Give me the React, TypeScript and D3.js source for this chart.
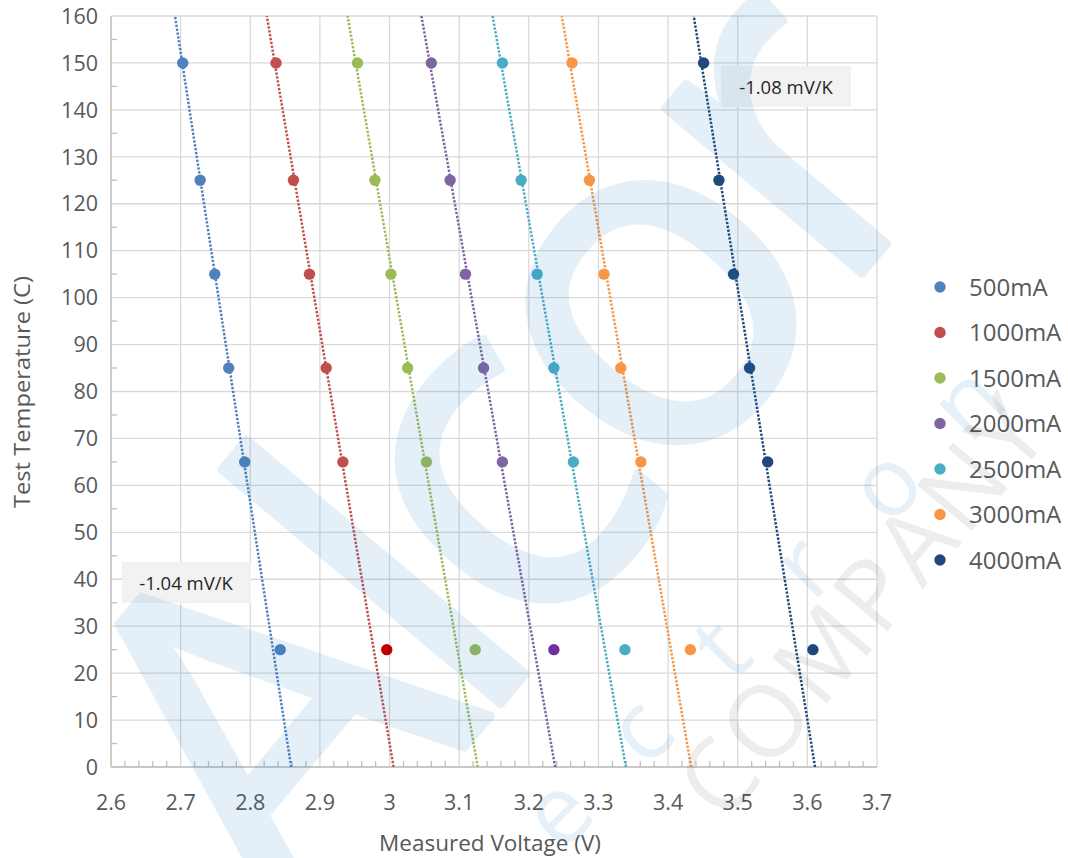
import React from 'react';
import * as d3 from 'd3';

// ---------- data ----------
const seriesNames = ['500mA', '1000mA', '1500mA', '2000mA', '2500mA', '3000mA', '4000mA'];
const hotTemps = [150, 125, 105, 85, 65];
const v500 = [2.703, 2.728, 2.749, 2.769, 2.792];
const v1000 = [2.837, 2.862, 2.885, 2.909, 2.933];
const v1500 = [2.954, 2.979, 3.002, 3.026, 3.053];
const v2000 = [3.060, 3.087, 3.109, 3.135, 3.162];
const v2500 = [3.162, 3.189, 3.212, 3.236, 3.264];
const v3000 = [3.262, 3.287, 3.308, 3.332, 3.361];
const v4000 = [3.451, 3.473, 3.494, 3.517, 3.543];
const roomTemp = 25;
const vRoom = [2.843, 2.996, 3.123, 3.236, 3.338, 3.432, 3.608];
const seriesColors = ['#4f81bd', '#c0504d', '#9bbb59', '#8064a2', '#4bacc6', '#f79646', '#1f497d'];
const roomColors = ['#4f81bd', '#c00000', '#9bbb59', '#7030a0', '#4bacc6', '#f79646', '#1f497d'];
const xTickValues = [2.6, 2.7, 2.8, 2.9, 3.0, 3.1, 3.2, 3.3, 3.4, 3.5, 3.6, 3.7];
const yTickValues = [0, 10, 20, 30, 40, 50, 60, 70, 80, 90, 100, 110, 120, 130, 140, 150, 160];
const slopeLabels = ['-1.04 mV/K', '-1.08 mV/K'];
const xTitle = 'Measured Voltage (V)';
const yTitle = 'Test Temperature (C)';
const watermarkBig = 'Alcor';
const watermarkSmall = 'ectron';
const watermarkCompany = 'COMPANY';

const hotSeries = [v500, v1000, v1500, v2000, v2500, v3000, v4000];

const W = 1068, H = 858;
const PL = 111, PR = 877, PT = 16, PB = 767;
const FONT = "'Open Sans', 'DejaVu Sans', sans-serif";

function fit(vs: number[], ts: number[]) {
  // Excel-style linear trendline: temperature (y) regressed on voltage (x)
  const mx = d3.mean(vs)!, my = d3.mean(ts)!;
  let sxy = 0, sxx = 0;
  vs.forEach((v, i) => { sxy += (v - mx) * (ts[i] - my); sxx += (v - mx) * (v - mx); });
  const a = sxy / sxx;
  const b = my - a * mx;
  return { a, b };
}

export default function App() {
  const x = d3.scaleLinear().domain([2.6, 3.7]).range([PL, PR]);
  const y = d3.scaleLinear().domain([0, 160]).range([PB, PT]);
  const xMinor = d3.range(0, 56).map(i => 2.6 + i * 0.02).filter((_, i) => i % 5 !== 0);
  const yMinor = d3.range(5, 160, 10);
  const line = d3.line<[number, number]>().x(d => x(d[0])).y(d => y(d[1]));

  const u = [Math.SQRT1_2, -Math.SQRT1_2];
  const blue = 'rgb(22,122,197)';

  return (
    <svg width={W} height={H} style={{ position: 'absolute', left: 0, top: 0, background: '#fff' }}
      fontFamily={FONT}>
      <defs>
        <clipPath id="plotclip"><rect x={PL} y={PT} width={PR - PL} height={PB - PT} /></clipPath>
      </defs>
      <rect x={0} y={0} width={W} height={H} fill="#fff" />
      {/* gridlines */}
      {yTickValues.map(t => (
        <line key={'gy' + t} x1={PL} x2={PR} y1={y(t)} y2={y(t)} stroke="#d9d9d9" strokeWidth={1.3} />
      ))}
      {xTickValues.map(t => (
        <line key={'gx' + t} x1={x(t)} x2={x(t)} y1={PT} y2={PB} stroke="#d9d9d9" strokeWidth={1.3} />
      ))}
      {/* axes */}
      <line x1={PL} x2={PL} y1={PT} y2={PB} stroke="#bfbfbf" strokeWidth={1.3} />
      <line x1={PL} x2={PR} y1={PB} y2={PB} stroke="#bfbfbf" strokeWidth={1.3} />
      {yMinor.map(t => (
        <line key={'my' + t} x1={PL} x2={PL + 6} y1={y(t)} y2={y(t)} stroke="#bfbfbf" strokeWidth={1.3} />
      ))}
      {xMinor.map((t, i) => (
        <line key={'mx' + i} x1={x(t)} x2={x(t)} y1={PB} y2={PB - 6} stroke="#bfbfbf" strokeWidth={1.3} />
      ))}
      {/* tick labels */}
      {yTickValues.map(t => (
        <text key={'ty' + t} x={98} y={y(t)} dy="0.36em" textAnchor="end" fontSize={21.5} fill="#595959">{t}</text>
      ))}
      {xTickValues.map(t => (
        <text key={'tx' + t} x={x(t)} y={810} textAnchor="middle" fontSize={21.5} fill="#595959">{d3.format('')(+t.toFixed(1))}</text>
      ))}
      <text x={490} y={851} textAnchor="middle" fontSize={22.5} fill="#595959">{xTitle}</text>
      <text transform={`translate(30,392) rotate(-90)`} textAnchor="middle" fontSize={22}
        fill="#595959" textLength={232} lengthAdjust="spacingAndGlyphs">{yTitle}</text>

      {/* trendlines */}
      <g clipPath="url(#plotclip)">
        {hotSeries.map((vs, i) => {
          const { a, b } = fit(vs, hotTemps);
          const pts: [number, number][] = [[(0 - b) / a, 0], [(160 - b) / a, 160]];
          return <path key={'tl' + i} d={line(pts)!} fill="none" stroke={seriesColors[i]}
            strokeWidth={2.5} strokeDasharray="2.3 1.6" />;
        })}
      </g>
      {/* points */}
      {hotSeries.map((vs, i) => vs.map((v, j) => (
        <circle key={`p${i}-${j}`} cx={x(v)} cy={y(hotTemps[j])} r={5.7} fill={seriesColors[i]} />
      )))}
      {vRoom.map((v, i) => (
        <circle key={'r' + i} cx={x(v)} cy={y(roomTemp)} r={5.7} fill={roomColors[i]} />
      ))}

      {/* slope labels */}
      <rect x={122} y={562} width={129} height={41} fill="#f2f2f2" />
      <text x={186} y={583} dy="0.36em" textAnchor="middle" fontSize={18.5} fill="#262626">{slopeLabels[0]}</text>
      <rect x={721} y={66} width={130} height={41} fill="#f2f2f2" />
      <text x={786} y={87} dy="0.36em" textAnchor="middle" fontSize={18.5} fill="#262626">{slopeLabels[1]}</text>

      {/* legend */}
      {seriesNames.map((n, i) => (
        <g key={'lg' + i} transform={`translate(0,${287 + i * 45.5})`}>
          <circle cx={940} cy={0} r={5.7} fill={seriesColors[i]} />
          <text x={969} y={0} dy="0.36em" fontSize={24} fill="#595959">{n}</text>
        </g>
      ))}

      {/* watermark */}
      <g pointerEvents="none">
        <g opacity={0.11}>
          <text transform="translate(296,948) rotate(-50)" fontSize={480} fontWeight={400}
            fill={blue} stroke={blue} strokeWidth={8} strokeLinejoin="round" letterSpacing={-26}>{watermarkBig}</text>
        </g>
        {watermarkSmall.split('').map((c, i) => {
          const s = i * 116;
          const cx = 560 + s * u[0], cy = 815 + s * u[1];
          return <text key={'el' + i} transform={`translate(${cx},${cy}) rotate(-45)`} textAnchor="middle"
            dy="0.3em" fontSize={96} fill={blue} fillOpacity={0.11}>{c}</text>;
        })}
        <text transform="translate(725,825) rotate(-50)" fontSize={100} fill="#000" fillOpacity={0.07}
          letterSpacing={4}>{watermarkCompany}</text>
      </g>
    </svg>
  );
}
